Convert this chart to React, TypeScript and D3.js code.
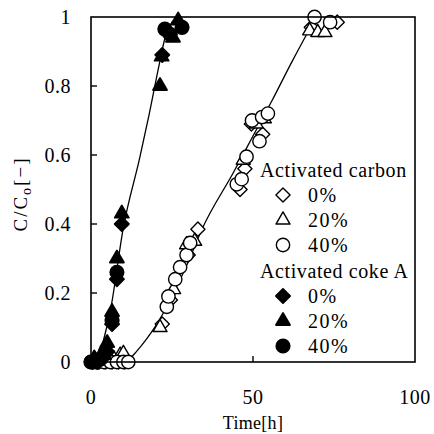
import React from 'react';
import * as d3 from 'd3';

const xTickValues = [0, 50, 100];
const xTickLabels = ['0', '50', '100'];
const yTickValues = [0, 0.2, 0.4, 0.6, 0.8, 1];
const yTickLabels = ['0', '0.2', '0.4', '0.6', '0.8', '1'];

// Activated carbon (open symbols)
const carbon0T = [0.5, 2.5, 4.5, 6.5, 8.5, 10.5, 22, 24.5, 30, 33, 46, 47.5, 49.5, 53, 68, 76];
const carbon0C = [0, 0, 0, 0, 0, 0, 0.11, 0.18, 0.31, 0.385, 0.5, 0.56, 0.69, 0.66, 0.97, 0.985];
const carbon20T = [1, 3, 5, 7, 9, 10, 21.3, 25.5, 29.5, 32, 47, 51, 53.5, 67.5, 70, 72.2];
const carbon20C = [0.01, 0.01, 0.01, 0.01, 0.02, 0.025, 0.1, 0.21, 0.34, 0.35, 0.585, 0.69, 0.705, 0.96, 0.955, 0.955];
const carbon40T = [0, 2, 4, 6, 8, 10, 11.5, 23.4, 23.9, 26, 27.5, 29.5, 30.6, 45, 46.5, 48, 49.7, 52, 52.8, 54.6, 69, 73.8];
const carbon40C = [0, 0, 0, 0, 0, 0, 0, 0.16, 0.19, 0.24, 0.275, 0.31, 0.345, 0.515, 0.53, 0.595, 0.7, 0.64, 0.71, 0.72, 1.0, 0.985];

// Activated coke A (filled symbols)
const coke0T = [0.5, 2, 3.5, 5, 6.5, 8, 9.5, 22, 24.3];
const coke0C = [0, 0, 0.01, 0.03, 0.11, 0.24, 0.4, 0.89, 0.95];
const coke20T = [1, 2.5, 4, 5, 6.5, 8, 9.5, 21.3, 21.8, 25.3, 26.9];
const coke20C = [0.01, 0.01, 0.02, 0.055, 0.145, 0.3, 0.43, 0.8, 0.885, 0.94, 0.99];
const coke40T = [0, 1.5, 3, 4.5, 6.5, 8, 22.8, 24.4, 28.1];
const coke40C = [0, 0, 0.01, 0.03, 0.12, 0.26, 0.965, 0.95, 0.97];

// Model lines
const cokeLineT = [0, 2, 3.5, 6, 10, 15, 18, 21, 23, 25, 27];
const cokeLineC = [0, 0, 0.05, 0.15, 0.39, 0.59, 0.72, 0.86, 0.945, 0.985, 1];
const carbonLineT = [10, 12, 14, 17, 21, 26, 30, 34, 44, 50, 56, 62, 66, 69, 71];
const carbonLineC = [0, 0.01, 0.03, 0.065, 0.12, 0.21, 0.29, 0.38, 0.55, 0.655, 0.76, 0.87, 0.94, 0.99, 1.0];

const groupTitles = ['Activated carbon', 'Activated coke A'];
const seriesLabels = ['0%', '20%', '40%'];

const FONT = "'Liberation Serif', 'Times New Roman', Times, serif";

export default function App() {
  const x = d3.scaleLinear().domain([0, 100]).range([91, 415]);
  const y = d3.scaleLinear().domain([0, 1]).range([362, 17]);

  const squarePath = d3.symbol(d3.symbolSquare, 100)() as string;
  const triPath = d3.symbol(d3.symbolTriangle, 85)() as string;
  const circPath = d3.symbol(d3.symbolCircle, 140)() as string;

  const shapes = [
    { d: squarePath, rot: 45 },
    { d: triPath, rot: 0 },
    { d: circPath, rot: 0 },
  ];

  const openSeries = [
    { t: carbon0T, c: carbon0C, s: 0 },
    { t: carbon20T, c: carbon20C, s: 1 },
    { t: carbon40T, c: carbon40C, s: 2 },
  ];
  const filledSeries = [
    { t: coke0T, c: coke0C, s: 0 },
    { t: coke20T, c: coke20C, s: 1 },
    { t: coke40T, c: coke40C, s: 2 },
  ];

  const mkLine = (ts: number[], cs: number[]) =>
    d3
      .line<number>()
      .x((_, i) => x(ts[i]))
      .y((_, i) => y(cs[i]))
      .curve(d3.curveMonotoneX)(ts) as string;

  const marker = (px: number, py: number, s: number, filled: boolean, key: string) => (
    <path
      key={key}
      d={shapes[s].d}
      transform={`translate(${px},${py}) rotate(${shapes[s].rot})`}
      fill={filled ? '#000' : '#fff'}
      stroke="#000"
      strokeWidth={filled ? 1.8 : 1.4}
      strokeLinejoin="round"
    />
  );

  const legendRowY = [170, 195, 220, 245, 271, 296, 321, 346];
  const legendSymX = 283;
  const legendTextX = 308;
  const legendTitleX = 260;

  const txt = { fontFamily: FONT } as React.CSSProperties;

  return (
    <svg
      width={434}
      height={434}
      style={{ position: 'absolute', left: 0, top: 0, background: '#fff', fontFamily: FONT }}
    >
      <rect x={0} y={0} width={434} height={434} fill="#fff" />

      {/* model lines */}
      <path d={mkLine(carbonLineT, carbonLineC)} fill="none" stroke="#000" strokeWidth={1.3} />
      <path d={mkLine(cokeLineT, cokeLineC)} fill="none" stroke="#000" strokeWidth={1.3} />

      {/* open markers */}
      {openSeries.map((ser, si) =>
        ser.t.map((t, i) => marker(x(t), y(ser.c[i]), ser.s, false, `o${si}-${i}`))
      )}
      {/* filled markers */}
      {filledSeries.map((ser, si) =>
        ser.t.map((t, i) => marker(x(t), y(ser.c[i]), ser.s, true, `f${si}-${i}`))
      )}

      {/* frame */}
      <rect x={x(0)} y={y(1)} width={x(100) - x(0)} height={y(0) - y(1)} fill="none" stroke="#000" strokeWidth={1.6} />

      {/* y ticks */}
      {yTickValues.map((v, i) => (
        <g key={`yt${i}`}>
          {v > 0 && v < 1 && <line x1={x(0)} x2={x(0) + 6} y1={y(v)} y2={y(v)} stroke="#000" strokeWidth={1.4} />}
          <text x={71} y={y(v) + 7} textAnchor="end" fontSize={20} letterSpacing={0.5} style={txt}>
            {yTickLabels[i]}
          </text>
        </g>
      ))}

      {/* x ticks */}
      {xTickValues.map((v, i) => (
        <g key={`xt${i}`}>
          {v > 0 && v < 100 && <line x1={x(v)} x2={x(v)} y1={y(0)} y2={y(0) - 6} stroke="#000" strokeWidth={1.4} />}
          <text x={x(v)} y={404} textAnchor="middle" fontSize={20} letterSpacing={0.5} style={txt}>
            {xTickLabels[i]}
          </text>
        </g>
      ))}

      {/* axis titles */}
      <text x={x(50)} y={429} textAnchor="middle" fontSize={18} letterSpacing={0.3} style={txt}>
        Time[h]
      </text>
      <text transform="translate(27,194) rotate(-90)" textAnchor="middle" fontSize={19} letterSpacing={2} style={txt}>
        C/C<tspan fontSize={14} dy={4}>o</tspan>
        <tspan dy={-4}>[−]</tspan>
      </text>

      {/* legend */}
      {groupTitles.map((g, gi) => (
        <g key={`lg${gi}`}>
          <text x={legendTitleX} y={legendRowY[gi * 4] + 7} fontSize={20} letterSpacing={0.6} style={txt}>
            {g}
          </text>
          {seriesLabels.map((lab, li) => (
            <g key={`lr${gi}-${li}`}>
              {marker(legendSymX, legendRowY[gi * 4 + 1 + li], li, gi === 1, `lm${gi}-${li}`)}
              <text x={legendTextX} y={legendRowY[gi * 4 + 1 + li] + 7} fontSize={20} letterSpacing={1.5} style={txt}>
                {lab}
              </text>
            </g>
          ))}
        </g>
      ))}
    </svg>
  );
}
